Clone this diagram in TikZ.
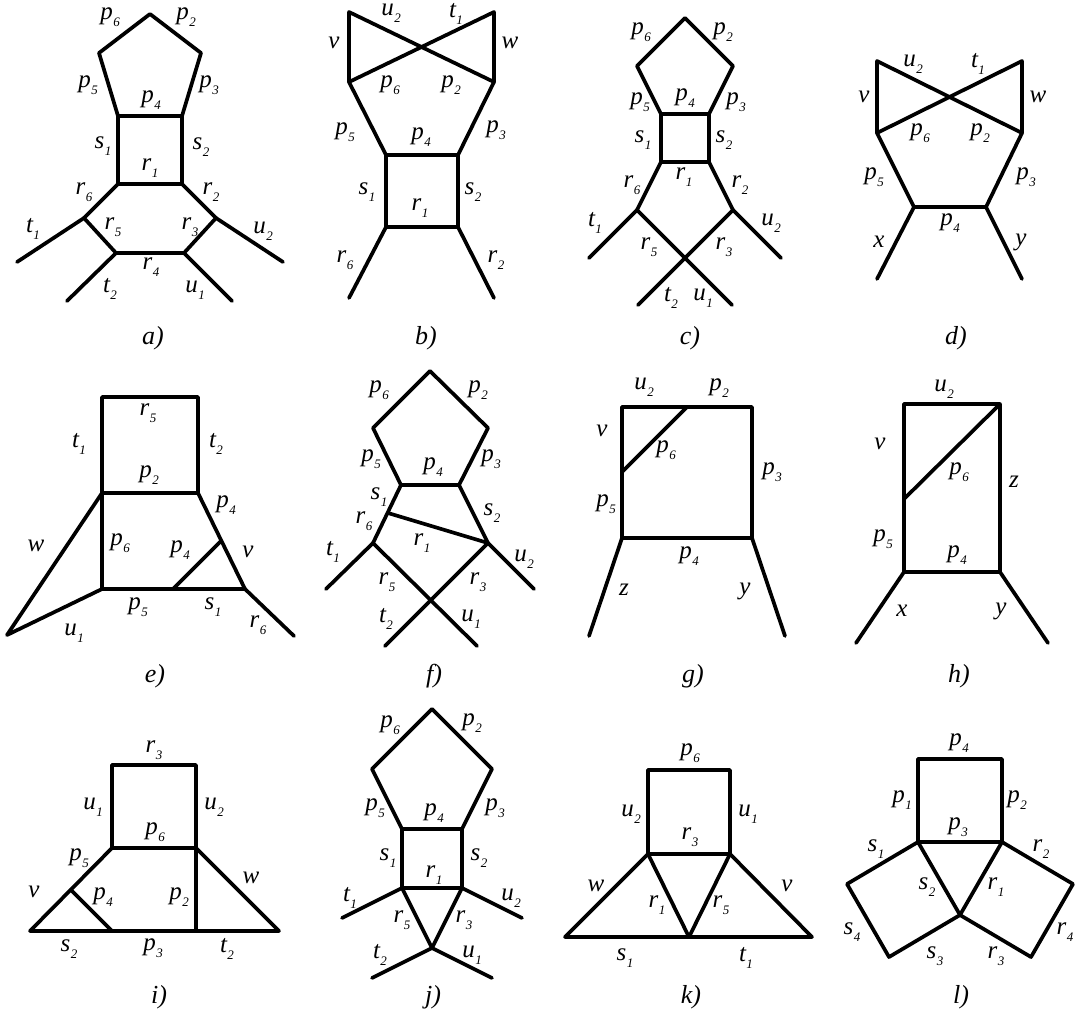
\documentclass[tikz,border=0pt]{standalone}
\usepackage{fontspec}
\setmainfont{Liberation Serif}
\newcommand{\idx}[2]{#1\kern0.5pt\raisebox{-7pt}{\fontsize{13}{13}\selectfont #2}}
\tikzset{
  seg/.style={line width=3.7pt,line join=round,line cap=round},
  lbl/.style={inner sep=0pt,font=\fontsize{25}{25}\selectfont\itshape},
  capn/.style={inner sep=0pt,font=\fontsize{26}{26}\selectfont\itshape},
}
\begin{document}
\begin{tikzpicture}[x=1pt,y=-1pt]
  \useasboundingbox (0,0) rectangle (1075,1015);
  % a)
  \coordinate (a1) at (150,14); \coordinate (a2) at (201,53); \coordinate (a3) at (182,116);
  \coordinate (a4) at (118,116); \coordinate (a5) at (99,53); \coordinate (a6) at (182,184);
  \coordinate (a7) at (118,184); \coordinate (a8) at (216,218); \coordinate (a9) at (184,253);
  \coordinate (a10) at (116,253); \coordinate (a11) at (84,218); \coordinate (a12) at (17,262);
  \coordinate (a13) at (67,301); \coordinate (a14) at (232,301); \coordinate (a15) at (283,262);
  \draw[seg] (a1)--(a2)--(a3)--(a4)--(a5)--cycle;
  \draw[seg] (a4)--(a7)--(a6)--(a3);
  \draw[seg] (a6)--(a8)--(a9)--(a10)--(a11)--(a7);
  \draw[seg] (a11)--(a12); \draw[seg] (a10)--(a13);
  \draw[seg] (a9)--(a14); \draw[seg] (a8)--(a15);
  \node[lbl] (a-p6) at (110,17) {\idx{p}{6}}; \node[lbl] (a-p2) at (186,17) {\idx{p}{2}};
  \node[lbl] (a-p5) at (88,85) {\idx{p}{5}}; \node[lbl] (a-p3) at (209,85) {\idx{p}{3}};
  \node[lbl] (a-p4) at (151,100) {\idx{p}{4}}; \node[lbl] (a-s1) at (103,146) {\idx{s}{1}};
  \node[lbl] (a-s2) at (201,147) {\idx{s}{2}}; \node[lbl] (a-r1) at (150,168) {\idx{r}{1}};
  \node[lbl] (a-r6) at (84,192) {\idx{r}{6}}; \node[lbl] (a-r2) at (211,192) {\idx{r}{2}};
  \node[lbl] (a-r5) at (113,227) {\idx{r}{5}}; \node[lbl] (a-r3) at (190,227) {\idx{r}{3}};
  \node[lbl] (a-r4) at (151,267) {\idx{r}{4}}; \node[lbl] (a-t1) at (33,229) {\idx{t}{1}};
  \node[lbl] (a-u2) at (263,231) {\idx{u}{2}}; \node[lbl] (a-t2) at (110,289) {\idx{t}{2}};
  \node[lbl] (a-u1) at (195,290) {\idx{u}{1}};
  \node[capn] (a-cap) at (153,338) {a)};
  % b)
  \coordinate (b1) at (349,12); \coordinate (b2) at (349,82); \coordinate (b3) at (494,12);
  \coordinate (b4) at (494,82); \coordinate (b5) at (386,155); \coordinate (b6) at (458,155);
  \coordinate (b7) at (386,227); \coordinate (b8) at (458,227); \coordinate (b9) at (349,298);
  \coordinate (b10) at (494,298);
  \draw[seg] (b2)--(b1)--(b4)--(b3)--(b2);
  \draw[seg] (b2)--(b5)--(b6)--(b4);
  \draw[seg] (b5)--(b7)--(b8)--(b6);
  \draw[seg] (b7)--(b9); \draw[seg] (b8)--(b10);
  \node[lbl] (b-u2) at (391,13) {\idx{u}{2}}; \node[lbl] (b-t1) at (456,14) {\idx{t}{1}};
  \node[lbl] (b-v) at (334,43) {v}; \node[lbl] (b-w) at (510,43) {w};
  \node[lbl] (b-p6) at (390,85) {\idx{p}{6}}; \node[lbl] (b-p2) at (451,85) {\idx{p}{2}};
  \node[lbl] (b-p5) at (345,132) {\idx{p}{5}}; \node[lbl] (b-p3) at (496,130) {\idx{p}{3}};
  \node[lbl] (b-p4) at (421,137) {\idx{p}{4}}; \node[lbl] (b-s1) at (367,192) {\idx{s}{1}};
  \node[lbl] (b-s2) at (473,192) {\idx{s}{2}}; \node[lbl] (b-r1) at (420,208) {\idx{r}{1}};
  \node[lbl] (b-r6) at (345,260) {\idx{r}{6}}; \node[lbl] (b-r2) at (496,260) {\idx{r}{2}};
  \node[capn] (b-cap) at (426,338) {b)};
  % c)
  \coordinate (c1) at (685,18); \coordinate (c2) at (733,66); \coordinate (c3) at (709,114);
  \coordinate (c4) at (661,114); \coordinate (c5) at (637,66); \coordinate (c6) at (709,162);
  \coordinate (c7) at (661,162); \coordinate (c8) at (637,210); \coordinate (c9) at (733,210);
  \coordinate (c10) at (589,258); \coordinate (c11) at (781,258); \coordinate (c12) at (638,305);
  \coordinate (c13) at (732,305);
  \draw[seg] (c1)--(c2)--(c3)--(c4)--(c5)--cycle;
  \draw[seg] (c4)--(c7)--(c6)--(c3);
  \draw[seg] (c7)--(c8)--(c13); \draw[seg] (c6)--(c9)--(c12);
  \draw[seg] (c8)--(c10); \draw[seg] (c9)--(c11);
  \node[lbl] (c-p6) at (641,32) {\idx{p}{6}}; \node[lbl] (c-p2) at (723,32) {\idx{p}{2}};
  \node[lbl] (c-p5) at (640,102) {\idx{p}{5}}; \node[lbl] (c-p4) at (685,98) {\idx{p}{4}};
  \node[lbl] (c-p3) at (736,102) {\idx{p}{3}}; \node[lbl] (c-s1) at (643,140) {\idx{s}{1}};
  \node[lbl] (c-s2) at (724,140) {\idx{s}{2}}; \node[lbl] (c-r1) at (684,177) {\idx{r}{1}};
  \node[lbl] (c-r6) at (632,185) {\idx{r}{6}}; \node[lbl] (c-r2) at (740,185) {\idx{r}{2}};
  \node[lbl] (c-t1) at (595,223) {\idx{t}{1}}; \node[lbl] (c-u2) at (771,223) {\idx{u}{2}};
  \node[lbl] (c-r5) at (649,247) {\idx{r}{5}}; \node[lbl] (c-r3) at (724,247) {\idx{r}{3}};
  \node[lbl] (c-t2) at (671,298) {\idx{t}{2}}; \node[lbl] (c-u1) at (703,298) {\idx{u}{1}};
  \node[capn] (c-cap) at (690,338) {c)};
  % d)
  \coordinate (d1) at (877,61); \coordinate (d2) at (877,133); \coordinate (d3) at (1022,61);
  \coordinate (d4) at (1022,133); \coordinate (d5) at (914,207); \coordinate (d6) at (986,207);
  \coordinate (d7) at (877,279); \coordinate (d8) at (1022,279);
  \draw[seg] (d2)--(d1)--(d4)--(d3)--(d2);
  \draw[seg] (d2)--(d5)--(d6)--(d4);
  \draw[seg] (d5)--(d7); \draw[seg] (d6)--(d8);
  \node[lbl] (d-u2) at (913,64) {\idx{u}{2}}; \node[lbl] (d-t1) at (978,64) {\idx{t}{1}};
  \node[lbl] (d-v) at (864,97) {v}; \node[lbl] (d-w) at (1038,97) {w};
  \node[lbl] (d-p6) at (920,133) {\idx{p}{6}}; \node[lbl] (d-p2) at (980,133) {\idx{p}{2}};
  \node[lbl] (d-p5) at (874,177) {\idx{p}{5}}; \node[lbl] (d-p3) at (1026,177) {\idx{p}{3}};
  \node[lbl] (d-p4) at (950,223) {\idx{p}{4}}; \node[lbl] (d-x) at (879,242) {x};
  \node[lbl] (d-y) at (1021,242) {y};
  \node[capn] (d-cap) at (956,338) {d)};
  % e)
  \coordinate (e1) at (102,397); \coordinate (e2) at (198,397); \coordinate (e3) at (102,493);
  \coordinate (e4) at (198,493); \coordinate (e5) at (102,589); \coordinate (e6) at (245,589);
  \coordinate (e7) at (7,635); \coordinate (e8) at (173,589); \coordinate (e9) at (221,541);
  \coordinate (e10) at (294,636);
  \draw[seg] (e3)--(e1)--(e2)--(e4)--(e3)--(e5)--(e6)--(e4);
  \draw[seg] (e3)--(e7)--(e5);
  \draw[seg] (e8)--(e9); \draw[seg] (e6)--(e10);
  \node[lbl] (e-r5) at (148,413) {\idx{r}{5}}; \node[lbl] (e-t1) at (79,444) {\idx{t}{1}};
  \node[lbl] (e-t2) at (216,444) {\idx{t}{2}}; \node[lbl] (e-p2) at (149,475) {\idx{p}{2}};
  \node[lbl] (e-p4a) at (226,505) {\idx{p}{4}}; \node[lbl] (e-w) at (36,546) {w};
  \node[lbl] (e-p6) at (120,543) {\idx{p}{6}}; \node[lbl] (e-p4b) at (180,550) {\idx{p}{4}};
  \node[lbl] (e-v) at (248,552) {v}; \node[lbl] (e-p5) at (138,607) {\idx{p}{5}};
  \node[lbl] (e-s1) at (213,607) {\idx{s}{1}}; \node[lbl] (e-u1) at (74,633) {\idx{u}{1}};
  \node[lbl] (e-r6) at (258,625) {\idx{r}{6}};
  \node[capn] (e-cap) at (155,676) {e)};
  % f)
  \coordinate (f1) at (430,371); \coordinate (f2) at (488,428); \coordinate (f3) at (459,485);
  \coordinate (f4) at (401,485); \coordinate (f5) at (373,428); \coordinate (f6) at (373,543);
  \coordinate (f7) at (488,543); \coordinate (f8) at (388,513); \coordinate (f9) at (326,589);
  \coordinate (f10) at (534,589); \coordinate (f11) at (385,646); \coordinate (f12) at (477,646);
  \draw[seg] (f1)--(f2)--(f3)--(f4)--(f5)--cycle;
  \draw[seg] (f4)--(f6)--(f12); \draw[seg] (f3)--(f7)--(f11);
  \draw[seg] (f8)--(f7);
  \draw[seg] (f6)--(f9); \draw[seg] (f7)--(f10);
  \node[lbl] (f-p6) at (379,390) {\idx{p}{6}}; \node[lbl] (f-p2) at (478,390) {\idx{p}{2}};
  \node[lbl] (f-p5) at (371,459) {\idx{p}{5}}; \node[lbl] (f-p3) at (491,459) {\idx{p}{3}};
  \node[lbl] (f-p4) at (433,467) {\idx{p}{4}}; \node[lbl] (f-s1) at (379,497) {\idx{s}{1}};
  \node[lbl] (f-s2) at (492,513) {\idx{s}{2}}; \node[lbl] (f-r6) at (364,521) {\idx{r}{6}};
  \node[lbl] (f-r1) at (422,543) {\idx{r}{1}}; \node[lbl] (f-t1) at (333,552) {\idx{t}{1}};
  \node[lbl] (f-u2) at (524,559) {\idx{u}{2}}; \node[lbl] (f-r5) at (387,582) {\idx{r}{5}};
  \node[lbl] (f-r3) at (478,582) {\idx{r}{3}}; \node[lbl] (f-t2) at (386,619) {\idx{t}{2}};
  \node[lbl] (f-u1) at (471,619) {\idx{u}{1}};
  \node[capn] (f-cap) at (434,676) {f)};
  % g)
  \coordinate (g1) at (622,407); \coordinate (g2) at (752,407); \coordinate (g3) at (622,538);
  \coordinate (g4) at (752,538); \coordinate (g5) at (622,472); \coordinate (g6) at (687,407);
  \coordinate (g7) at (589,636); \coordinate (g8) at (785,636);
  \draw[seg] (g1)--(g2)--(g4)--(g3)--cycle;
  \draw[seg] (g5)--(g6);
  \draw[seg] (g3)--(g7); \draw[seg] (g4)--(g8);
  \node[lbl] (g-u2) at (644,387) {\idx{u}{2}}; \node[lbl] (g-p2) at (719,388) {\idx{p}{2}};
  \node[lbl] (g-v) at (602,431) {v}; \node[lbl] (g-p6) at (666,450) {\idx{p}{6}};
  \node[lbl] (g-p3) at (772,472) {\idx{p}{3}}; \node[lbl] (g-p5) at (606,504) {\idx{p}{5}};
  \node[lbl] (g-p4) at (689,556) {\idx{p}{4}}; \node[lbl] (g-z) at (624,590) {z};
  \node[lbl] (g-y) at (745,591) {y};
  \node[capn] (g-cap) at (693,676) {g)};
  % h)
  \coordinate (h1) at (904,404); \coordinate (h2) at (1000,404); \coordinate (h3) at (904,572);
  \coordinate (h4) at (1000,572); \coordinate (h5) at (904,499); \coordinate (h6) at (856,643);
  \coordinate (h7) at (1048,643);
  \draw[seg] (h1)--(h2)--(h4)--(h3)--cycle;
  \draw[seg] (h5)--(h2);
  \draw[seg] (h3)--(h6); \draw[seg] (h4)--(h7);
  \node[lbl] (h-u2) at (944,389) {\idx{u}{2}}; \node[lbl] (h-v) at (880,444) {v};
  \node[lbl] (h-p6) at (959,472) {\idx{p}{6}}; \node[lbl] (h-z) at (1014,482) {z};
  \node[lbl] (h-p5) at (883,539) {\idx{p}{5}}; \node[lbl] (h-p4) at (957,555) {\idx{p}{4}};
  \node[lbl] (h-x) at (902,611) {x}; \node[lbl] (h-y) at (1001,611) {y};
  \node[capn] (h-cap) at (959,676) {h)};
  % i)
  \coordinate (i1) at (112,765); \coordinate (i2) at (196,765); \coordinate (i3) at (112,848);
  \coordinate (i4) at (196,848); \coordinate (i5) at (30,931); \coordinate (i6) at (279,931);
  \coordinate (i7) at (71,890); \coordinate (i8) at (112,931); \coordinate (i9) at (196,931);
  \draw[seg] (i1)--(i2)--(i4)--(i3)--cycle;
  \draw[seg] (i3)--(i5)--(i6)--(i4);
  \draw[seg] (i7)--(i8); \draw[seg] (i4)--(i9);
  \node[lbl] (i-r3) at (154,750) {\idx{r}{3}}; \node[lbl] (i-u1) at (93,807) {\idx{u}{1}};
  \node[lbl] (i-u2) at (214,807) {\idx{u}{2}}; \node[lbl] (i-p6) at (155,832) {\idx{p}{6}};
  \node[lbl] (i-p5) at (79,858) {\idx{p}{5}}; \node[lbl] (i-v) at (34,892) {v};
  \node[lbl] (i-p4) at (103,897) {\idx{p}{4}}; \node[lbl] (i-w) at (251,878) {w};
  \node[lbl] (i-p2) at (179,897) {\idx{p}{2}}; \node[lbl] (i-s2) at (69,949) {\idx{s}{2}};
  \node[lbl] (i-p3) at (153,948) {\idx{p}{3}}; \node[lbl] (i-t2) at (227,949) {\idx{t}{2}};
  \node[capn] (i-cap) at (159,997) {i)};
  % j)
  \coordinate (j1) at (432,709); \coordinate (j2) at (492,769); \coordinate (j3) at (462,829);
  \coordinate (j4) at (402,829); \coordinate (j5) at (372,769); \coordinate (j6) at (462,888);
  \coordinate (j7) at (402,888); \coordinate (j8) at (432,948); \coordinate (j9) at (342,918);
  \coordinate (j10) at (522,918); \coordinate (j11) at (372,978); \coordinate (j12) at (492,978);
  \draw[seg] (j1)--(j2)--(j3)--(j4)--(j5)--cycle;
  \draw[seg] (j4)--(j7)--(j6)--(j3);
  \draw[seg] (j7)--(j8)--(j6);
  \draw[seg] (j7)--(j9); \draw[seg] (j6)--(j10);
  \draw[seg] (j8)--(j11); \draw[seg] (j8)--(j12);
  \node[lbl] (j-p6) at (390,725) {\idx{p}{6}}; \node[lbl] (j-p2) at (472,723) {\idx{p}{2}};
  \node[lbl] (j-p5) at (375,808) {\idx{p}{5}}; \node[lbl] (j-p3) at (495,808) {\idx{p}{3}};
  \node[lbl] (j-p4) at (434,813) {\idx{p}{4}}; \node[lbl] (j-s1) at (388,858) {\idx{s}{1}};
  \node[lbl] (j-s2) at (479,858) {\idx{s}{2}}; \node[lbl] (j-r1) at (434,875) {\idx{r}{1}};
  \node[lbl] (j-t1) at (350,898) {\idx{t}{1}}; \node[lbl] (j-u2) at (511,898) {\idx{u}{2}};
  \node[lbl] (j-r5) at (402,920) {\idx{r}{5}}; \node[lbl] (j-r3) at (464,920) {\idx{r}{3}};
  \node[lbl] (j-t2) at (380,955) {\idx{t}{2}}; \node[lbl] (j-u1) at (472,955) {\idx{u}{1}};
  \node[capn] (j-cap) at (433,997) {j)};
  % k)
  \coordinate (k1) at (648,770); \coordinate (k2) at (730,770); \coordinate (k3) at (648,854);
  \coordinate (k4) at (730,854); \coordinate (k5) at (565,937); \coordinate (k6) at (812,937);
  \coordinate (k7) at (689,937);
  \draw[seg] (k1)--(k2)--(k4)--(k3)--cycle;
  \draw[seg] (k3)--(k5)--(k6)--(k4);
  \draw[seg] (k3)--(k7)--(k4);
  \node[lbl] (k-p6) at (690,753) {\idx{p}{6}}; \node[lbl] (k-u2) at (631,814) {\idx{u}{2}};
  \node[lbl] (k-u1) at (748,814) {\idx{u}{1}}; \node[lbl] (k-r3) at (690,837) {\idx{r}{3}};
  \node[lbl] (k-w) at (596,886) {w}; \node[lbl] (k-v) at (787,886) {v};
  \node[lbl] (k-r1) at (657,905) {\idx{r}{1}}; \node[lbl] (k-r5) at (721,905) {\idx{r}{5}};
  \node[lbl] (k-s1) at (625,958) {\idx{s}{1}}; \node[lbl] (k-t1) at (746,958) {\idx{t}{1}};
  \node[capn] (k-cap) at (691,997) {k)};
  % l)
  \coordinate (l1) at (918,759); \coordinate (l2) at (1002,759); \coordinate (l3) at (918,842);
  \coordinate (l4) at (1002,842); \coordinate (l5) at (847,884); \coordinate (l6) at (889,957);
  \coordinate (l7) at (960,915); \coordinate (l8) at (1031,957); \coordinate (l9) at (1073,884);
  \draw[seg] (l1)--(l2)--(l4)--(l3)--cycle;
  \draw[seg] (l3)--(l5)--(l6)--(l7)--(l3);
  \draw[seg] (l4)--(l9)--(l8)--(l7)--(l4);
  \node[lbl] (l-p4) at (959,743) {\idx{p}{4}}; \node[lbl] (l-p1) at (902,800) {\idx{p}{1}};
  \node[lbl] (l-p2) at (1017,800) {\idx{p}{2}}; \node[lbl] (l-p3) at (958,827) {\idx{p}{3}};
  \node[lbl] (l-s1) at (876,849) {\idx{s}{1}}; \node[lbl] (l-r2) at (1041,849) {\idx{r}{2}};
  \node[lbl] (l-s2) at (927,887) {\idx{s}{2}}; \node[lbl] (l-r1) at (996,887) {\idx{r}{1}};
  \node[lbl] (l-s4) at (852,932) {\idx{s}{4}}; \node[lbl] (l-s3) at (935,956) {\idx{s}{3}};
  \node[lbl] (l-r3) at (996,956) {\idx{r}{3}}; \node[lbl] (l-r4) at (1065,932) {\idx{r}{4}};
  \node[capn] (l-cap) at (961,997) {l)};
\end{tikzpicture}
\end{document}
